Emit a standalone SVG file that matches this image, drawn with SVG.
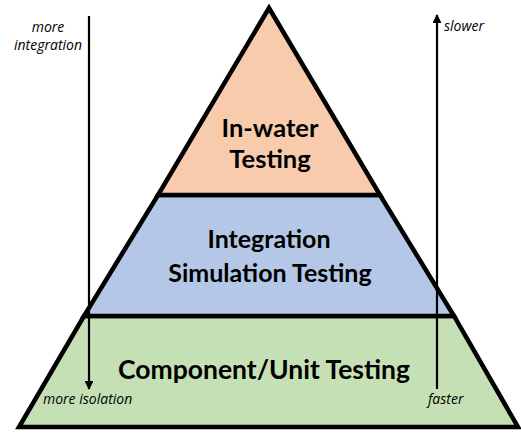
<svg xmlns="http://www.w3.org/2000/svg" width="521" height="433" viewBox="0 0 521 433">
<style>
.tier{stroke:#000;stroke-width:4.5;stroke-linejoin:miter}
.lbl{font-family:Lato,"Open Sans",sans-serif;font-weight:bold;fill:#000;text-anchor:middle}
.side{font-family:"Open Sans","Noto Sans",sans-serif;font-style:italic;font-size:14px;fill:#000}
.arr{stroke:#000;stroke-width:2.2;fill:none}
</style>
<defs>
<marker id="ah" viewBox="0 0 10 10" refX="9" refY="5" markerWidth="4" markerHeight="4" orient="auto" markerUnits="strokeWidth">
<path d="M0,0 L10,5 L0,10 z" fill="#000"/>
</marker>
</defs>
<rect width="521" height="433" fill="#fff"/>
<g id="bottom">
<polygon class="tier" points="84,316 454,316 518,427 19,427" fill="#C5E0B4"/>
<text class="lbl" x="264" y="379" font-size="26.5">Component/Unit Testing</text>
</g>
<g id="middle">
<polygon class="tier" points="158,195 380,195 454,316 84,316" fill="#B4C7E7"/>
<text class="lbl" x="269" y="248" font-size="25">Integration</text>
<text class="lbl" x="270" y="282" font-size="25">Simulation Testing</text>
</g>
<g id="top">
<polygon class="tier" points="269,8 380,195 158,195" fill="#F8CBAD"/>
<text class="lbl" x="270" y="137" font-size="25.5">In-water</text>
<text class="lbl" x="270" y="168" font-size="25.5">Testing</text>
</g>
<g id="connectors">
<line class="arr" x1="89" y1="16" x2="89" y2="389" marker-end="url(#ah)"/>
<line class="arr" x1="437" y1="389" x2="437" y2="15" marker-end="url(#ah)"/>
</g>
<g id="annotations">
<text class="side" x="48" y="32" text-anchor="middle">more</text>
<text class="side" x="48" y="50" text-anchor="middle">integration</text>
<text class="side" x="444" y="31">slower</text>
<text class="side" x="43" y="404">more isolation</text>
<text class="side" x="428" y="404">faster</text>
</g>
</svg>
